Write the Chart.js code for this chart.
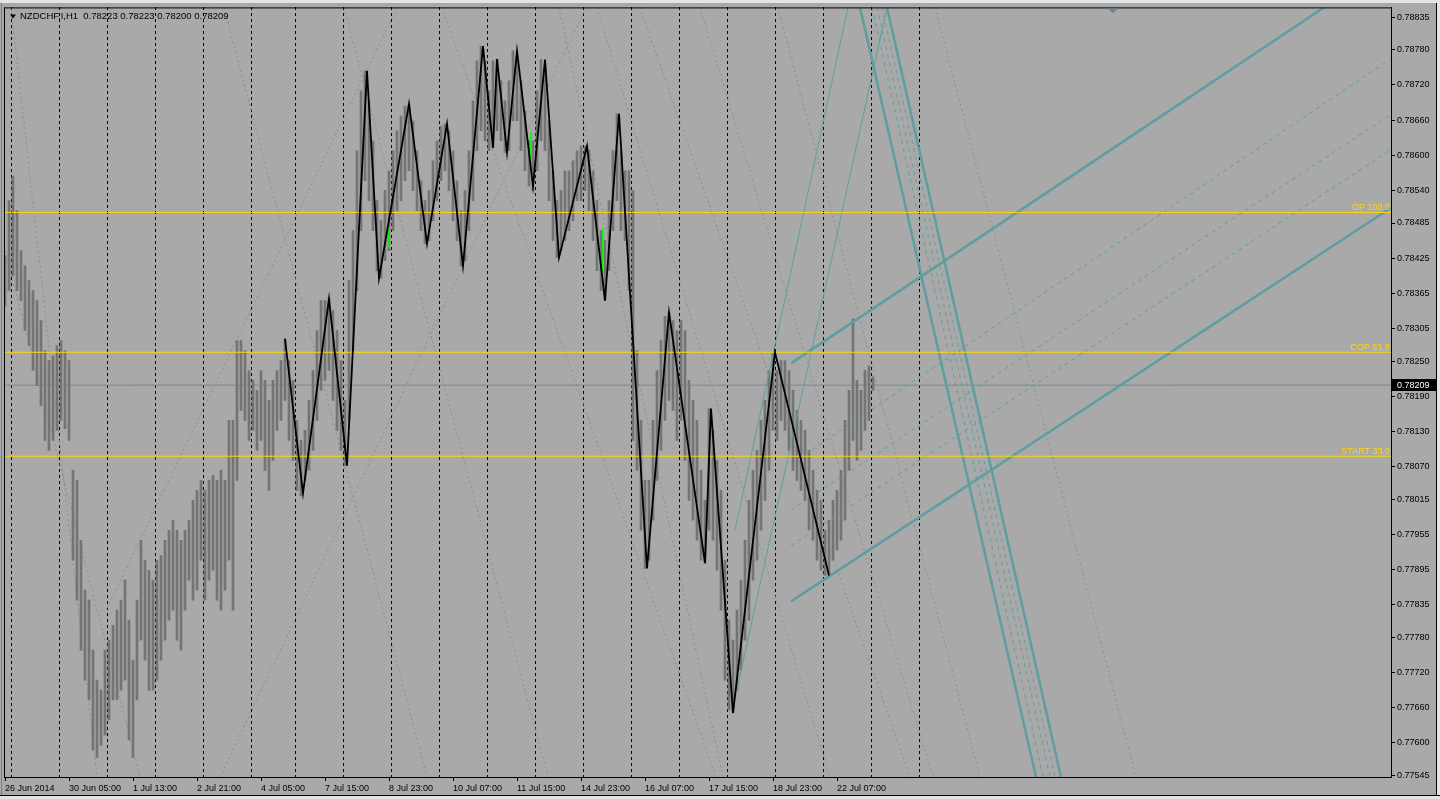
<!DOCTYPE html>
<html>
<head>
<meta charset="utf-8">
<title>NZDCHF,I,H1</title>
<script src="https://cdn.jsdelivr.net/npm/chart.js@4.4.1/dist/chart.umd.min.js"></script>
<style>
  html, body { margin: 0; padding: 0; background: #A9A9A9; overflow: hidden; }
  canvas { display: block; }
</style>
</head>
<body>
<canvas id="chart" width="1440" height="799"></canvas>
<script>
// --- NZDCHF H1 snapshot, MT4 style ---

const FONT = '"Liberation Sans", Arial, sans-serif';
const headerText = 'NZDCHF,I,H1  0.78223 0.78223 0.78200 0.78209';

// x axis is in bar units (one H1 bar = 1)
const xMin = -0.5;
const xMax = 693;
const xTickIdx = [0, 32, 64, 96, 128, 160, 192, 224, 256, 288, 320, 352, 384, 416];
const xTickLabels = ['26 Jun 2014', '30 Jun 05:00', '1 Jul 13:00', '2 Jul 21:00', '4 Jul 05:00',
  '7 Jul 15:00', '8 Jul 23:00', '10 Jul 07:00', '11 Jul 15:00', '14 Jul 23:00',
  '16 Jul 07:00', '17 Jul 15:00', '18 Jul 23:00', '22 Jul 07:00'];
const dayBreakIdx = [3, 27, 51, 75, 99, 123, 145, 169, 193, 217, 241, 265, 289, 313, 337, 361, 385, 409, 433, 457];

const yMin = 0.77542;
const yMax = 0.78852;
const yTickVals = [0.78835, 0.78780, 0.78720, 0.78660, 0.78600, 0.78540, 0.78485, 0.78425, 0.78365,
  0.78305, 0.78250, 0.78190, 0.78130, 0.78070, 0.78015, 0.77955, 0.77895, 0.77835, 0.77780,
  0.77720, 0.77660, 0.77600, 0.77545];

// price bars, one entry every 2 bars
const barStep = 2;
const barHigh = [
  0.78429, 0.78523, 0.78565, 0.78506, 0.78438, 0.78412, 0.78387, 0.78370, 0.78353, 0.78319,
  0.78268, 0.78251, 0.78259, 0.78276, 0.78285, 0.78268, 0.78251, 0.78064, 0.78047, 0.77945,
  0.77860, 0.77843, 0.77758, 0.77707, 0.77690, 0.77758, 0.77775, 0.77800, 0.77826, 0.77843,
  0.77877, 0.77809, 0.77741, 0.77843, 0.77945, 0.77911, 0.77894, 0.77877, 0.77911, 0.77919,
  0.77945, 0.77962, 0.77979, 0.77962, 0.77945, 0.77962, 0.77979, 0.78013, 0.78030, 0.78047,
  0.78030, 0.78047, 0.78055, 0.78047, 0.78064, 0.78047, 0.78149, 0.78149, 0.78285, 0.78285,
  0.78268, 0.78234, 0.78217, 0.78200, 0.78234, 0.78217, 0.78183, 0.78217, 0.78234, 0.78251,
  0.78288, 0.78251, 0.78217, 0.78149, 0.78115, 0.78132, 0.78183, 0.78234, 0.78302, 0.78353,
  0.78353, 0.78358, 0.78336, 0.78302, 0.78251, 0.78183, 0.78387, 0.78472, 0.78608, 0.78710,
  0.78744, 0.78693, 0.78625, 0.78523, 0.78489, 0.78540, 0.78574, 0.78608, 0.78642, 0.78667,
  0.78684, 0.78688, 0.78659, 0.78608, 0.78557, 0.78523, 0.78540, 0.78591, 0.78625, 0.78650,
  0.78654, 0.78642, 0.78608, 0.78557, 0.78506, 0.78540, 0.78608, 0.78693, 0.78761, 0.78786,
  0.78761, 0.78710, 0.78761, 0.78764, 0.78727, 0.78693, 0.78727, 0.78778, 0.78769, 0.78727,
  0.78676, 0.78625, 0.78625, 0.78710, 0.78763, 0.78752, 0.78659, 0.78574, 0.78523, 0.78540,
  0.78574, 0.78574, 0.78591, 0.78608, 0.78616, 0.78616, 0.78608, 0.78574, 0.78523, 0.78472,
  0.78455, 0.78523, 0.78608, 0.78671, 0.78608, 0.78574, 0.78574, 0.78540, 0.78268, 0.78149,
  0.78047, 0.78047, 0.78149, 0.78234, 0.78285, 0.78326, 0.78333, 0.78319, 0.78302, 0.78319,
  0.78302, 0.78217, 0.78183, 0.78149, 0.78064, 0.78013, 0.78169, 0.78132, 0.78081, 0.78030,
  0.77911, 0.77809, 0.77775, 0.77826, 0.77877, 0.77945, 0.78013, 0.78064, 0.78098, 0.78149,
  0.78183, 0.78234, 0.78265, 0.78234, 0.78251, 0.78251, 0.78234, 0.78200, 0.78166, 0.78149,
  0.78132, 0.78098, 0.78064, 0.78030, 0.78013, 0.77962, 0.77979, 0.78013, 0.78030, 0.78064,
  0.78149, 0.78200, 0.78322, 0.78217, 0.78200, 0.78234, 0.78242, 0.78223
];
const barLow = [
  0.78344, 0.78370, 0.78395, 0.78370, 0.78353, 0.78302, 0.78276, 0.78234, 0.78208, 0.78174,
  0.78115, 0.78098, 0.78115, 0.78132, 0.78149, 0.78135, 0.78115, 0.77911, 0.77843, 0.77758,
  0.77707, 0.77673, 0.77588, 0.77575, 0.77596, 0.77613, 0.77639, 0.77673, 0.77673, 0.77690,
  0.77707, 0.77605, 0.77575, 0.77673, 0.77775, 0.77741, 0.77690, 0.77690, 0.77707, 0.77741,
  0.77775, 0.77809, 0.77826, 0.77775, 0.77758, 0.77826, 0.77877, 0.77843, 0.77860, 0.77911,
  0.77843, 0.77877, 0.77894, 0.77843, 0.77826, 0.77860, 0.77911, 0.77826, 0.78047, 0.78166,
  0.78149, 0.78115, 0.78132, 0.78098, 0.78115, 0.78064, 0.78030, 0.78081, 0.78132, 0.78149,
  0.78183, 0.78115, 0.78081, 0.78030, 0.78021, 0.78047, 0.78064, 0.78098, 0.78149, 0.78200,
  0.78217, 0.78234, 0.78183, 0.78132, 0.78098, 0.78072, 0.78149, 0.78268, 0.78370, 0.78472,
  0.78557, 0.78523, 0.78472, 0.78404, 0.78391, 0.78421, 0.78438, 0.78472, 0.78506, 0.78523,
  0.78557, 0.78574, 0.78540, 0.78506, 0.78472, 0.78450, 0.78455, 0.78489, 0.78523, 0.78557,
  0.78574, 0.78540, 0.78489, 0.78455, 0.78412, 0.78421, 0.78472, 0.78523, 0.78608, 0.78642,
  0.78625, 0.78608, 0.78613, 0.78642, 0.78625, 0.78605, 0.78608, 0.78659, 0.78659, 0.78608,
  0.78574, 0.78548, 0.78540, 0.78574, 0.78625, 0.78608, 0.78523, 0.78455, 0.78426, 0.78438,
  0.78455, 0.78472, 0.78489, 0.78523, 0.78523, 0.78540, 0.78506, 0.78455, 0.78404, 0.78370,
  0.78353, 0.78404, 0.78472, 0.78523, 0.78472, 0.78455, 0.78370, 0.78115, 0.78064, 0.77962,
  0.77897, 0.77911, 0.77979, 0.78047, 0.78098, 0.78149, 0.78183, 0.78166, 0.78115, 0.78149,
  0.78081, 0.78013, 0.77979, 0.77945, 0.77911, 0.77906, 0.77962, 0.77945, 0.77894, 0.77826,
  0.77707, 0.77656, 0.77651, 0.77690, 0.77724, 0.77775, 0.77809, 0.77877, 0.77911, 0.77962,
  0.78013, 0.78064, 0.78132, 0.78115, 0.78149, 0.78132, 0.78098, 0.78064, 0.78047, 0.78030,
  0.78013, 0.77962, 0.77945, 0.77911, 0.77894, 0.77885, 0.77885, 0.77911, 0.77928, 0.77945,
  0.77979, 0.78064, 0.78115, 0.78081, 0.78098, 0.78132, 0.78149, 0.78200
];

// a few bars painted lime in the terminal
const greenIdx = [192, 263, 299];
const greenHigh = [0.78477, 0.78639, 0.78477];
const greenLow = [0.78443, 0.78595, 0.78390];

// ZigZag swing points
const zzIdx = [140, 149, 162, 171, 181, 187, 202, 211, 221, 229, 239, 244, 246, 251, 256, 264,
  270, 277, 291, 300, 307, 321, 332, 350, 353, 364, 385, 412];
const zzPrice = [0.78288, 0.78025, 0.78356, 0.78072, 0.78744, 0.78391, 0.78688, 0.78450, 0.78654,
  0.78412, 0.78786, 0.78613, 0.78764, 0.78605, 0.78778, 0.78548, 0.78763, 0.78426, 0.78616,
  0.78353, 0.78671, 0.77897, 0.78333, 0.77906, 0.78169, 0.77651, 0.78265, 0.77885];

// horizontal levels
const levelPrices = [0.78503, 0.78265, 0.78088];
const levelNames = ['OP 100.0', 'COP 61.8', 'START 33.0'];
const lastPrice = 0.78209;

// trend objects: [barFrom, priceFrom, barTo, priceTo]
const forkThick = [
  [393, 0.78246, 659.5, 0.78852],
  [393, 0.77841, 693, 0.78511],
  [427.5, 0.78852, 515.5, 0.77542],
  [441, 0.78852, 528, 0.77542]
];
const forkThin = [
  [365, 0.77962, 421.5, 0.78852],
  [365, 0.77676, 441, 0.78852]
];
const forkDashed = [
  [397, 0.78084, 693, 0.78765],
  [393, 0.77996, 693, 0.78670],
  [393, 0.77936, 693, 0.78610],
  [433.5, 0.78852, 519, 0.77542],
  [436, 0.78852, 522.5, 0.77542],
  [438.5, 0.78852, 525, 0.77542]
];
const gannLines = [
  [3, 0.78852, 46, 0.77542],
  [0, 0.78438, 67.5, 0.77542],
  [109.5, 0.78852, 211, 0.77542],
  [51, 0.77829, 196, 0.78852],
  [107.5, 0.77542, 290.5, 0.78852],
  [169.5, 0.78852, 271.5, 0.77542],
  [218.5, 0.78852, 355.5, 0.77542],
  [277, 0.78852, 359, 0.77542],
  [296, 0.78852, 412.5, 0.77542],
  [317.5, 0.78852, 452.5, 0.77542],
  [347.5, 0.78852, 464, 0.77542],
  [386.5, 0.78852, 487.5, 0.77542],
  [465, 0.78852, 565.5, 0.77542]
];
const shiftMarkIdx = 554;

function seg(s) {
  return [{ x: s[0], y: s[1] }, { x: s[2], y: s[3] }];
}

function lineDs(points, color, width, dash, order) {
  return {
    type: 'line',
    data: points,
    borderColor: color,
    borderWidth: width,
    borderDash: dash,
    pointRadius: 0,
    fill: false,
    tension: 0,
    clip: 0,
    order: order
  };
}

const datasets = [];

// zigzag on top
datasets.push(lineDs(zzIdx.map((x, i) => ({ x: x, y: zzPrice[i] })), '#000000', 1.8, [], 0));

levelPrices.forEach(p => {
  datasets.push(lineDs([{ x: xMin, y: p }, { x: xMax, y: p }], '#FFD700', 1, [], 1));
});

forkThick.forEach(s => datasets.push(lineDs(seg(s), '#5F9EA0', 2.5, [], 2)));
forkThin.forEach(s => datasets.push(lineDs(seg(s), '#5F9EA0', 1, [], 2)));
forkDashed.forEach(s => datasets.push(lineDs(seg(s), '#5F9EA0', 1, [4, 4], 2)));

datasets.push({
  type: 'bar',
  data: greenIdx.map((x, i) => ({ x: x, y: [greenLow[i], greenHigh[i]] })),
  backgroundColor: '#00FF00',
  borderWidth: 0,
  barThickness: 1,
  grouped: false,
  order: 3
});

datasets.push({
  type: 'bar',
  data: barHigh.map((h, i) => ({ x: i * barStep, y: [barLow[i], h] })),
  backgroundColor: '#747474',
  borderWidth: 0,
  barThickness: 2,
  grouped: false,
  order: 4
});

datasets.push(lineDs([{ x: xMin, y: lastPrice }, { x: xMax, y: lastPrice }], '#778899', 1, [], 5));

gannLines.forEach(s => datasets.push(lineDs(seg(s), '#8C8C8C', 1, [2, 3], 6)));

// window chrome, labels and price marker
const terminalPlugin = {
  id: 'terminal',
  beforeDraw(chart) {
    const ctx = chart.ctx;
    ctx.save();
    ctx.fillStyle = '#A9A9A9';
    ctx.fillRect(0, 0, chart.width, chart.height);
    ctx.restore();
  },
  afterDraw(chart) {
    const ctx = chart.ctx;
    const a = chart.chartArea;
    const ys = chart.scales.y;
    const xs = chart.scales.x;
    ctx.save();

    // frame
    ctx.fillStyle = '#E4E4E4';
    ctx.fillRect(0, 0, chart.width, 3);
    ctx.fillRect(0, chart.height - 3, chart.width, 3);
    ctx.fillRect(chart.width - 3, 0, 3, chart.height);
    ctx.fillStyle = '#000000';
    ctx.fillRect(0, chart.height - 4, chart.width, 1);
    ctx.fillRect(chart.width - 4, 3, 1, chart.height - 7);
    ctx.fillStyle = '#808080';
    ctx.fillRect(1, 3, 1, chart.height - 7);
    ctx.fillStyle = '#000000';
    ctx.fillRect(a.left, a.top, a.right - a.left, 1);
    ctx.fillRect(a.left, a.top, 1, a.bottom - a.top);

    // level captions
    ctx.font = '9px ' + FONT;
    ctx.fillStyle = '#FFD700';
    ctx.textAlign = 'right';
    ctx.textBaseline = 'alphabetic';
    levelPrices.forEach((p, i) => {
      ctx.fillText(levelNames[i], a.right - 1, ys.getPixelForValue(p) - 2);
    });

    // last price box
    const py = Math.round(ys.getPixelForValue(lastPrice));
    ctx.fillStyle = '#000000';
    ctx.fillRect(a.right + 1, py - 6, 44, 12);
    ctx.fillStyle = '#FFFFFF';
    ctx.textAlign = 'left';
    ctx.textBaseline = 'middle';
    ctx.fillText(lastPrice.toFixed(5), a.right + 6, py + 0.5);

    // header
    ctx.fillStyle = '#000000';
    ctx.beginPath();
    ctx.moveTo(a.left + 6, a.top + 7);
    ctx.lineTo(a.left + 12, a.top + 7);
    ctx.lineTo(a.left + 9, a.top + 11);
    ctx.closePath();
    ctx.fill();
    ctx.font = '9.5px ' + FONT;
    ctx.textBaseline = 'alphabetic';
    ctx.fillText(headerText, a.left + 16, a.top + 12);

    // chart shift marker
    const sx = xs.getPixelForValue(shiftMarkIdx);
    ctx.fillStyle = '#6F8597';
    ctx.beginPath();
    ctx.moveTo(sx - 5, a.top + 1);
    ctx.lineTo(sx + 5, a.top + 1);
    ctx.lineTo(sx, a.top + 6);
    ctx.closePath();
    ctx.fill();
    ctx.restore();
  }
};

new Chart(document.getElementById('chart'), {
  type: 'line',
  data: { datasets: datasets },
  options: {
    responsive: false,
    animation: false,
    devicePixelRatio: 1,
    events: [],
    layout: { padding: { left: 4, top: 7, right: 0, bottom: 0 } },
    plugins: { legend: { display: false }, tooltip: { enabled: false } },
    scales: {
      x: {
        type: 'linear',
        position: 'bottom',
        min: xMin,
        max: xMax,
        offset: false,
        afterFit: s => { s.height = 22; },
        afterBuildTicks: s => { s.ticks = xTickIdx.map(v => ({ value: v })); },
        ticks: {
          callback: (v, i) => xTickLabels[i],
          autoSkip: false,
          maxRotation: 0,
          align: 'start',
          padding: 2,
          color: '#000000',
          font: { family: FONT, size: 9 }
        },
        grid: { drawOnChartArea: false, drawTicks: true, tickLength: 4, color: '#000000', offset: false },
        border: { display: true, color: '#000000' }
      },
      days: {
        type: 'linear',
        position: 'top',
        min: xMin,
        max: xMax,
        offset: false,
        afterFit: s => { s.height = 0; },
        afterBuildTicks: s => { s.ticks = dayBreakIdx.map(v => ({ value: v })); },
        ticks: { display: false },
        grid: { drawOnChartArea: true, drawTicks: false, color: '#000000', lineWidth: 1, offset: false },
        border: { display: false, dash: [3, 3] }
      },
      y: {
        type: 'linear',
        position: 'right',
        min: yMin,
        max: yMax,
        afterFit: s => { s.width = 49; },
        afterBuildTicks: s => { s.ticks = yTickVals.map(v => ({ value: v })); },
        ticks: {
          callback: v => v.toFixed(5),
          autoSkip: false,
          padding: 2,
          color: '#000000',
          font: { family: FONT, size: 9 }
        },
        grid: { drawOnChartArea: false, drawTicks: true, tickLength: 4, color: '#000000' },
        border: { display: true, color: '#000000' }
      }
    }
  },
  plugins: [terminalPlugin]
});
</script>
</body>
</html>
